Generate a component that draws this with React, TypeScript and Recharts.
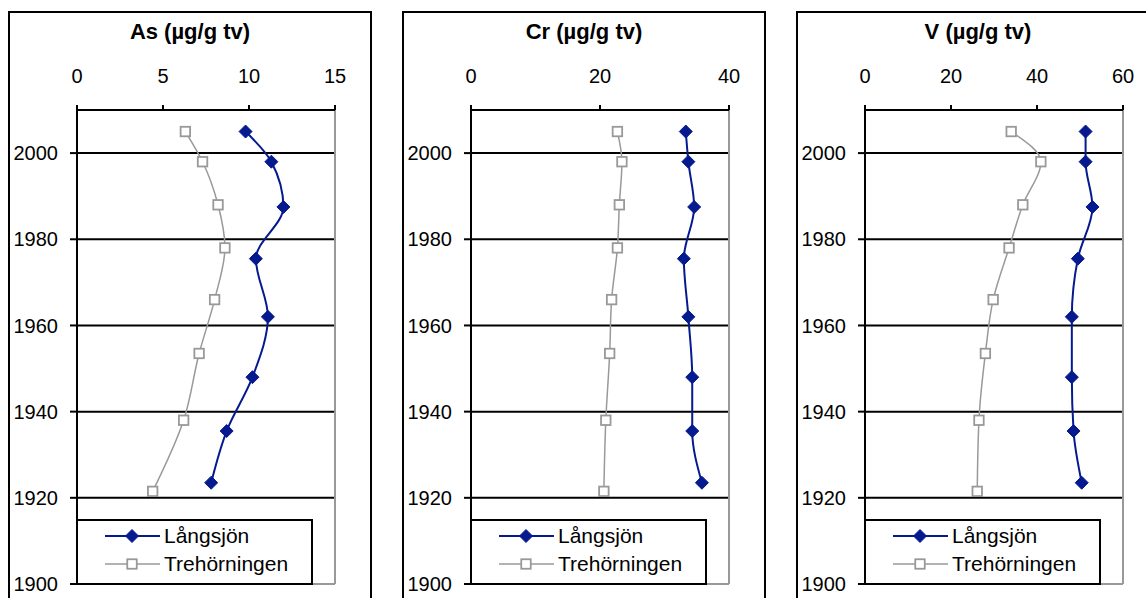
import React from 'react';
import { LineChart, Line, XAxis, YAxis, CartesianGrid, ReferenceLine } from 'recharts';

const yearsLangsjon = [2005, 1998, 1987.5, 1975.5, 1962, 1948, 1935.5, 1923.5];
const yearsTrehorningen = [2005, 1998, 1988, 1978, 1966, 1953.5, 1938, 1921.5];

const asLangsjon = [9.8, 11.3, 12.0, 10.4, 11.1, 10.2, 8.7, 7.8];
const asTrehorningen = [6.3, 7.3, 8.2, 8.6, 8.0, 7.1, 6.2, 4.4];
const crLangsjon = [33.3, 33.7, 34.6, 33.0, 33.7, 34.3, 34.3, 35.8];
const crTrehorningen = [22.7, 23.4, 23.0, 22.7, 21.8, 21.5, 20.9, 20.6];
const vLangsjon = [51.3, 51.3, 52.9, 49.5, 48.1, 48.1, 48.5, 50.4];
const vTrehorningen = [34.0, 40.9, 36.7, 33.5, 29.8, 28.0, 26.5, 26.1];

const yearTicks = [1900, 1920, 1940, 1960, 1980, 2000];
const gridYears = [1920, 1940, 1960, 1980, 2000];
const titles = ['As (µg/g tv)', 'Cr (µg/g tv)', 'V (µg/g tv)'];
const valueTicks = [
  [0, 5, 10, 15],
  [0, 20, 40],
  [0, 20, 40, 60],
];
const seriesNames = ['Långsjön', 'Trehörningen'];

const NAVY = '#061a8f';
const GRAY = '#999999';
const FONT = '"Liberation Sans", Arial, sans-serif';

const Diamond = (props: any) => {
  const { cx, cy } = props;
  if (cx == null || cy == null) return null;
  const r = 6.5;
  return <path d={`M${cx},${cy - r}L${cx + r},${cy}L${cx},${cy + r}L${cx - r},${cy}Z`} fill={NAVY} stroke={NAVY} strokeWidth={1} />;
};

const Square = (props: any) => {
  const { cx, cy } = props;
  if (cx == null || cy == null) return null;
  const s = 9.5;
  return <rect x={cx - s / 2} y={cy - s / 2} width={s} height={s} fill="#fff" stroke={GRAY} strokeWidth={1.8} />;
};

function LegendBox() {
  const row = (name: string, kind: 'd' | 's', top: number) => (
    <div style={{ position: 'absolute', left: 0, top, height: 26, width: '100%' }}>
      <svg width={60} height={26} style={{ position: 'absolute', left: 26, top: 0 }}>
        <line x1={1} x2={56} y1={13} y2={13} stroke={kind === 'd' ? NAVY : GRAY} strokeWidth={kind === 'd' ? 2 : 1.5} />
        {kind === 'd' ? <Diamond cx={28} cy={13} /> : <Square cx={28} cy={13} />}
      </svg>
      <div style={{ position: 'absolute', left: 86, top: 0, lineHeight: '26px', fontSize: 21, color: '#000', whiteSpace: 'nowrap' }}>{name}</div>
    </div>
  );
  return (
    <div
      style={{
        position: 'absolute',
        left: 76,
        top: 519,
        width: 237,
        height: 66,
        boxSizing: 'border-box',
        border: '2px solid #000',
        background: '#fff',
        fontFamily: FONT,
      }}
    >
      {row(seriesNames[0], 'd', 2)}
      {row(seriesNames[1], 's', 30)}
    </div>
  );
}

function Panel({ index, title, lang, treh, ticks }: { index: number; title: string; lang: number[]; treh: number[]; ticks: number[] }) {
  const langData = yearsLangsjon.map((year, i) => ({ year, value: lang[i] }));
  const trehData = yearsTrehorningen.map((year, i) => ({ year, value: treh[i] }));
  const max = ticks[ticks.length - 1];
  return (
    <div style={{ position: 'absolute', left: index * 394, top: 0, width: 394, height: 598 }}>
      <div
        style={{
          position: 'absolute',
          left: 8,
          top: 11,
          width: 364,
          height: 640,
          boxSizing: 'border-box',
          border: '2px solid #000',
        }}
      />
      <div
        style={{
          position: 'absolute',
          left: 8,
          width: 364,
          top: 18,
          lineHeight: '28px',
          textAlign: 'center',
          fontWeight: 'bold',
          fontSize: 22,
          fontFamily: FONT,
          color: '#000',
        }}
      >
        {title}
      </div>
      <div style={{ position: 'absolute', left: 0, top: 0 }}>
        <LineChart layout="vertical" width={394} height={598} margin={{ top: 70, right: 59, bottom: 14, left: 17 }}>
          <CartesianGrid horizontal vertical={false} horizontalValues={gridYears} stroke="#000" strokeWidth={2} />
          <XAxis
            type="number"
            orientation="top"
            dataKey="value"
            domain={[0, max]}
            ticks={ticks}
            height={40}
            interval={0}
            tickSize={5}
            tickMargin={22}
            axisLine={{ stroke: '#000', strokeWidth: 2 }}
            tickLine={{ stroke: '#000', strokeWidth: 2 }}
            tick={{ fill: '#000', fontSize: 20, fontFamily: FONT }}
          />
          <YAxis
            type="number"
            dataKey="year"
            domain={[1900, 2010]}
            ticks={yearTicks}
            reversed
            width={60}
            interval={0}
            tickSize={7}
            tickMargin={12}
            axisLine={{ stroke: '#000', strokeWidth: 2 }}
            tickLine={{ stroke: '#000', strokeWidth: 2 }}
            tick={{ fill: '#000', fontSize: 20, fontFamily: FONT }}
          />
          <ReferenceLine x={max} stroke={GRAY} strokeWidth={2} />
          <ReferenceLine y={1900} stroke={GRAY} strokeWidth={2} />
          <Line
            data={trehData}
            dataKey="value"
            name={seriesNames[1]}
            type="monotone"
            stroke={GRAY}
            strokeWidth={1.5}
            dot={<Square />}
            activeDot={false}
            isAnimationActive={false}
          />
          <Line
            data={langData}
            dataKey="value"
            name={seriesNames[0]}
            type="monotone"
            stroke={NAVY}
            strokeWidth={2}
            dot={<Diamond />}
            activeDot={false}
            isAnimationActive={false}
          />
        </LineChart>
      </div>
      <LegendBox />
    </div>
  );
}

export default function App() {
  return (
    <div
      style={{
        position: 'absolute',
        left: 0,
        top: 0,
        width: 1146,
        height: 598,
        overflow: 'hidden',
        background: '#fff',
        fontFamily: FONT,
      }}
    >
      <Panel index={0} title={titles[0]} lang={asLangsjon} treh={asTrehorningen} ticks={valueTicks[0]} />
      <Panel index={1} title={titles[1]} lang={crLangsjon} treh={crTrehorningen} ticks={valueTicks[1]} />
      <Panel index={2} title={titles[2]} lang={vLangsjon} treh={vTrehorningen} ticks={valueTicks[2]} />
    </div>
  );
}
